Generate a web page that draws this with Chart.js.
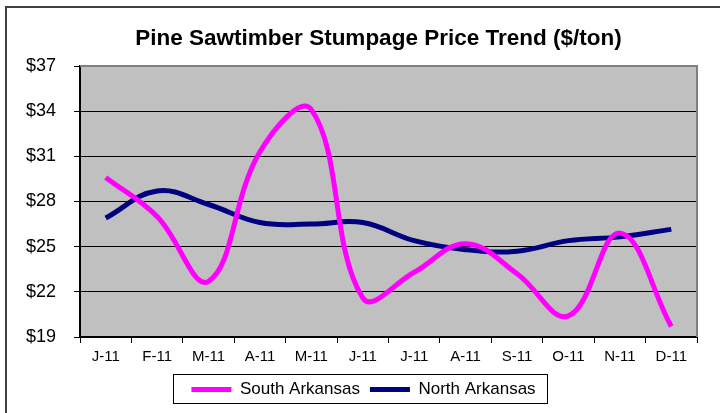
<!DOCTYPE html>
<html>
<head>
<meta charset="utf-8">
<script src="https://cdn.jsdelivr.net/npm/chart.js@4/dist/chart.umd.min.js"></script>
<style>
  html, body { margin: 0; padding: 0; background: #fff; }
  #wrap { width: 720px; height: 413px; }
</style>
</head>
<body>
<div id="wrap"><canvas id="chart" width="720" height="413"></canvas></div>
<script>
// chart values
const months = ['J-11', 'F-11', 'M-11', 'A-11', 'M-11', 'J-11', 'J-11', 'A-11', 'S-11', 'O-11', 'N-11', 'D-11'];
const southArkansas = [29.6, 27.0, 22.7, 31.3, 34.1, 21.6, 23.3, 25.2, 23.2, 20.4, 25.9, 19.7];
const northArkansas = [26.9, 28.7, 27.8, 26.6, 26.5, 26.6, 25.4, 24.8, 24.7, 25.4, 25.65, 26.15];
const yMin = 19, yMax = 37, yStep = 3;

const fontFamily = "'Liberation Sans', Arial, sans-serif";

// grey plot area, outer frame and legend box (Excel look)
const excelLook = {
    id: 'excelLook',
    afterLayout(chart) {
        // in the original the title and legend are centred on the plot, not the canvas
        chart.titleBlock.left += 30;
        chart.titleBlock.right += 30;
        chart.legend.left += 15;
        chart.legend.right += 15;
    },
    beforeDraw(chart) {
        const { ctx, chartArea: a } = chart;
        ctx.save();
        ctx.fillStyle = '#C0C0C0';
        ctx.fillRect(a.left, a.top, a.right - a.left, a.bottom - a.top);
        // outer chart frame
        ctx.strokeStyle = '#404040';
        ctx.lineWidth = 2;
        ctx.beginPath();
        ctx.moveTo(6, 413);
        ctx.lineTo(6, 7);
        ctx.lineTo(720, 7);
        ctx.stroke();
        ctx.restore();
    },
    afterDraw(chart) {
        const { ctx, chartArea: a } = chart;
        ctx.save();
        ctx.strokeStyle = '#808080';
        ctx.lineWidth = 2;
        ctx.beginPath();
        ctx.moveTo(a.left, a.top);
        ctx.lineTo(a.right, a.top);
        ctx.lineTo(a.right, a.bottom);
        ctx.stroke();
        // legend frame
        const boxes = chart.legend.legendHitBoxes;
        if (boxes && boxes.length) {
            const l = Math.min(...boxes.map(b => b.left));
            const r = Math.max(...boxes.map(b => b.left + b.width));
            const t = Math.min(...boxes.map(b => b.top));
            const bt = Math.max(...boxes.map(b => b.top + b.height));
            ctx.strokeStyle = '#000';
            ctx.lineWidth = 1;
            ctx.strokeRect(Math.round(l - 18) + 0.5, Math.round(t - 7) + 0.5, Math.round(r - l + 30), Math.round(bt - t + 12));
        }
        ctx.restore();
    }
};

const ctx = document.getElementById('chart').getContext('2d');
const priceChart = new Chart(ctx, {
    type: 'line',
    data: {
        labels: months,
        datasets: [
            {
                label: 'South Arkansas',
                data: southArkansas,
                borderColor: '#FF00FF',
                backgroundColor: '#FF00FF',
                borderWidth: 5,
                pointRadius: 0,
                tension: 0.4,
                fill: false
            },
            {
                label: 'North Arkansas',
                data: northArkansas,
                borderColor: '#000080',
                backgroundColor: '#000080',
                borderWidth: 5,
                pointRadius: 0,
                tension: 0.4,
                fill: false
            }
        ]
    },
    options: {
        responsive: false,
        animation: false,
        layout: { padding: { top: 15, right: 23, bottom: 5, left: 0 } },
        plugins: {
            title: {
                display: true,
                text: 'Pine Sawtimber Stumpage Price Trend ($/ton)',
                color: '#000',
                font: { family: fontFamily, size: 22.5, weight: 'bold' },
                padding: { top: 10, bottom: 14 }
            },
            legend: {
                position: 'bottom',
                labels: {
                    color: '#000',
                    font: { family: fontFamily, size: 17 },
                    usePointStyle: true,
                    pointStyle: 'line',
                    pointStyleWidth: 40,
                    padding: 10
                }
            },
            tooltip: { enabled: false }
        },
        scales: {
            x: {
                offset: true,
                grid: {
                    offset: true,
                    drawOnChartArea: false,
                    color: '#000',
                    tickLength: 6
                },
                border: { color: '#000', width: 2 },
                ticks: {
                    color: '#000',
                    font: { family: fontFamily, size: 15 },
                    padding: 5,
                    maxRotation: 0,
                    autoSkip: false
                }
            },
            y: {
                min: yMin,
                max: yMax,
                grid: { color: '#000', lineWidth: 1, tickLength: 6 },
                border: { color: '#000', width: 2 },
                afterFit(scale) { scale.width = 80; },
                ticks: {
                    stepSize: yStep,
                    color: '#000',
                    padding: 18,
                    font: { family: fontFamily, size: 18 },
                    callback: value => '$' + value
                }
            }
        }
    },
    plugins: [excelLook]
});
</script>
</body>
</html>
